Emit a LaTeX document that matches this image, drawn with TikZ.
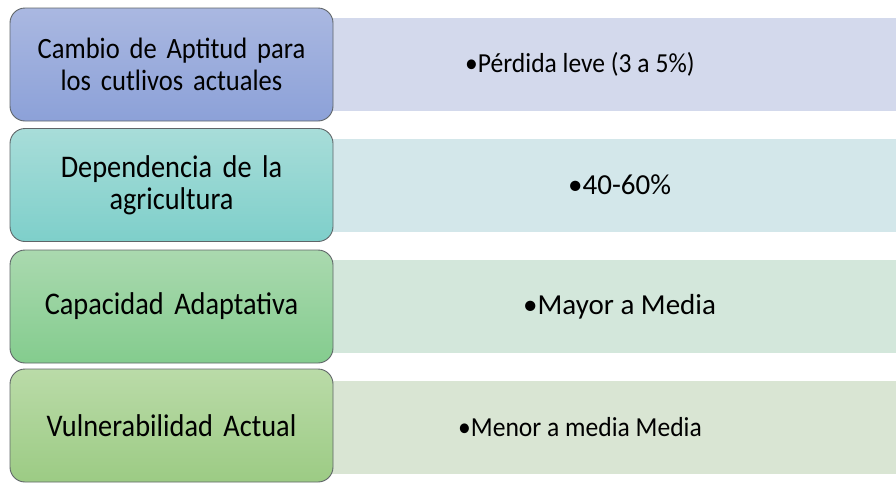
\documentclass[tikz,border=0pt]{standalone}
\usepackage{fontspec}
\setmainfont{Carlito}
\newfontfamily\narrowfont{Carlito}[FakeStretch=0.9]
\newfontfamily\semifont{Carlito}[FakeStretch=0.93]
\definecolor{bordc}{HTML}{5F6568}
\definecolor{aTop}{HTML}{AAB8E1}
\definecolor{aBot}{HTML}{8CA1D8}
\definecolor{aBar}{HTML}{D3D9EC}
\definecolor{bTop}{HTML}{A8DDD9}
\definecolor{bBot}{HTML}{7ECFCA}
\definecolor{bBar}{HTML}{D3E7EA}
\definecolor{cTop}{HTML}{AAD9AF}
\definecolor{cBot}{HTML}{84CC8E}
\definecolor{cBar}{HTML}{D3E7DB}
\definecolor{dTop}{HTML}{BADBA8}
\definecolor{dBot}{HTML}{9CCB84}
\definecolor{dBar}{HTML}{D9E5D3}
\tikzset{
  leftbox/.style={rectangle, rounded corners=15pt, draw=bordc, line width=0.9pt,
    minimum width=323pt, minimum height=113pt, inner sep=0pt,
    text width=310pt, align=center, font=\narrowfont\fontsize{31.5}{32}\selectfont},
  smalltxt/.style={font=\narrowfont\fontsize{29.5}{32}\selectfont},
  barbox/.style={rectangle, draw=none, minimum width=566pt, minimum height=93pt, inner sep=0pt},
  bartext/.style={anchor=west, inner sep=0pt, font=\fontsize{29}{32}\selectfont},
  barsmall/.style={font=\semifont\fontsize{27.5}{30}\selectfont}
}
\begin{document}
\begin{tikzpicture}[x=1pt,y=-1pt]
\useasboundingbox (0,0) rectangle (896,483);
% bars
\node[barbox, fill=aBar] (r1) at (613,64.5) {};
\node[barbox, fill=bBar] (r2) at (613,185) {};
\node[barbox, fill=cBar] (r3) at (613,306.5) {};
\node[barbox, fill=dBar] (r4) at (613,427.5) {};
% bar texts
\node[bartext, barsmall] (t1) at (465,64.5) {•Pérdida leve (3 a 5\%)};
\node[bartext] (t2) at (568,185) {•40-60\%};
\node[bartext] (t3) at (523,306.5) {•Mayor a Media};
\node[bartext, barsmall] (t4) at (458,427.5) {•Menor a media Media};
% left boxes
\node[leftbox, smalltxt, top color=aTop, bottom color=aBot] (l1) at (171.5,64.5) {Cambio de Aptitud para\\los cutlivos actuales};
\node[leftbox, top color=bTop, bottom color=bBot] (l2) at (171.5,185) {Dependencia de la\\agricultura};
\node[leftbox, top color=cTop, bottom color=cBot] (l3) at (171.5,306.5) {Capacidad Adaptativa};
\node[leftbox, top color=dTop, bottom color=dBot] (l4) at (171.5,425.5) {Vulnerabilidad Actual};
\end{tikzpicture}
\end{document}
